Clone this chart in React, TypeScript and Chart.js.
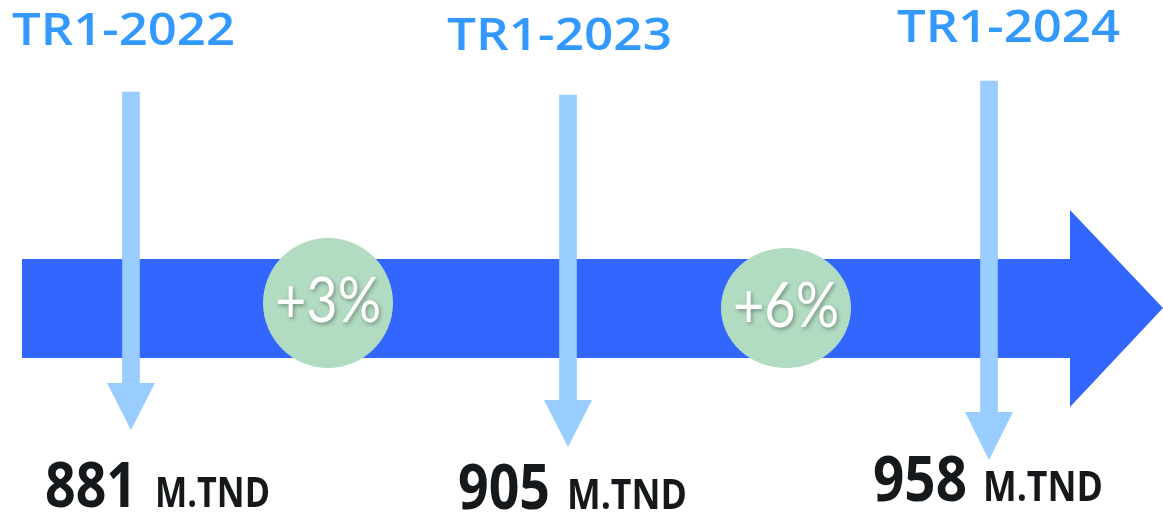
import React, { useEffect, useRef } from "react";
import { Chart, registerables } from "chart.js";

Chart.register(...registerables);

// ---- data ----
const periods = ["TR1-2022", "TR1-2023", "TR1-2024"];
const revenues = [881, 905, 958];
const unitLabel = "M.TND";
const growthLabels = ["+3%", "+6%"];

// ---- layout (chart units = pixels of a 1163x512 frame, y downward) ----
const W = 1163;
const H = 512;
const markerX = [131, 568, 989];
const shaftTop = [92, 95, 81];
const headTop = [383, 400, 412];
const headTip = [430, 447, 460];
const headHalf = 24;
const titleX = [12, 447, 897];
const titleBase = [45, 50, 42];
const titleWidth = [223, 225, 223];
const valueX = [45, 458, 873];
const valueBase = [507, 509, 501];
const valueWidth = [92, 92, 94];
const unitX = [155, 567, 983];
const unitWidth = [115, 120, 120];
const bubbleX = [328, 786];
const bubbleY = [303, 308];
const bubbleRX = [65, 65];
const bubbleRY = [65, 60];
const growthWidth = [106, 106];
const growthBase = [322, 327];
const band = { x0: 22, x1: 1070, top: 259, bottom: 358, headTop: 210, headBottom: 407, tipX: 1163, tipY: 308 };

const COL_BAND = "#3366ff";
const COL_MARK = "#99ccff";
const COL_TITLE = "#3399ff";
const COL_BUBBLE = "#b2dcc2";
const COL_VALUE = "#16191c";

function fitText(ctx: CanvasRenderingContext2D, text: string, x: number, y: number, width: number, align: "left" | "center") {
  const w = ctx.measureText(text).width || 1;
  const s = width / w;
  ctx.save();
  ctx.translate(x, y);
  ctx.scale(s, 1);
  ctx.textAlign = align;
  ctx.fillText(text, 0, 0);
  ctx.restore();
}

const infographicPlugin = {
  id: "infographic",
  beforeDatasetsDraw(chart: any) {
    const ctx: CanvasRenderingContext2D = chart.ctx;
    const xs = chart.scales.x;
    const ys = chart.scales.y;
    const px = (v: number) => xs.getPixelForValue(v);
    const py = (v: number) => ys.getPixelForValue(v);
    ctx.save();
    ctx.fillStyle = COL_BAND;
    ctx.beginPath();
    ctx.moveTo(px(band.x0), py(band.top));
    ctx.lineTo(px(band.x1), py(band.top));
    ctx.lineTo(px(band.x1), py(band.headTop));
    ctx.lineTo(px(band.tipX), py(band.tipY));
    ctx.lineTo(px(band.x1), py(band.headBottom));
    ctx.lineTo(px(band.x1), py(band.bottom));
    ctx.lineTo(px(band.x0), py(band.bottom));
    ctx.closePath();
    ctx.fill();
    ctx.restore();
  },
  afterDatasetsDraw(chart: any) {
    const ctx: CanvasRenderingContext2D = chart.ctx;
    const xs = chart.scales.x;
    const ys = chart.scales.y;
    const px = (v: number) => xs.getPixelForValue(v);
    const py = (v: number) => ys.getPixelForValue(v);
    ctx.save();
    // arrow heads of markers
    ctx.fillStyle = COL_MARK;
    markerX.forEach((x, i) => {
      ctx.beginPath();
      ctx.moveTo(px(x - headHalf), py(headTop[i]));
      ctx.lineTo(px(x + headHalf), py(headTop[i]));
      ctx.lineTo(px(x), py(headTip[i]));
      ctx.closePath();
      ctx.fill();
    });
    // growth bubbles
    growthLabels.forEach((g, i) => {
      ctx.fillStyle = COL_BUBBLE;
      ctx.beginPath();
      ctx.ellipse(px(bubbleX[i]), py(bubbleY[i]), bubbleRX[i], bubbleRY[i], 0, 0, Math.PI * 2);
      ctx.fill();
      ctx.save();
      ctx.shadowColor = "rgba(0,0,0,0.35)";
      ctx.shadowBlur = 4;
      ctx.shadowOffsetX = 1.5;
      ctx.shadowOffsetY = 1.5;
      ctx.fillStyle = "#ffffff";
      ctx.font = "400 62px Lato";
      ctx.textBaseline = "alphabetic";
      fitText(ctx, g, px(bubbleX[i]), py(growthBase[i]), growthWidth[i], "center");
      ctx.restore();
    });
    // titles
    ctx.textBaseline = "alphabetic";
    ctx.fillStyle = COL_TITLE;
    ctx.font = "600 46px 'Open Sans'";
    periods.forEach((p, i) => {
      fitText(ctx, p, px(titleX[i]), py(titleBase[i]), titleWidth[i], "left");
    });
    // values
    ctx.fillStyle = COL_VALUE;
    revenues.forEach((v, i) => {
      ctx.font = "bold 62px 'Open Sans'";
      fitText(ctx, String(v), px(valueX[i]), py(valueBase[i]), valueWidth[i], "left");
      ctx.font = "bold 42px 'Open Sans'";
      fitText(ctx, unitLabel, px(unitX[i]), py(valueBase[i]), unitWidth[i], "left");
    });
    ctx.restore();
  },
};

export default function App() {
  const ref = useRef<HTMLCanvasElement | null>(null);
  useEffect(() => {
    if (!ref.current) return;
    const chart = new Chart(ref.current, {
      type: "bar",
      data: {
        datasets: [
          {
            label: "markers",
            data: markerX.map((x, i) => ({ x, y: [shaftTop[i], headTop[i] + 1] })) as any,
            backgroundColor: COL_MARK,
            borderWidth: 0,
            barThickness: 17,
            grouped: false,
          } as any,
        ],
      },
      options: {
        animation: false,
        responsive: false,
        maintainAspectRatio: false,
        layout: { padding: 0 },
        plugins: { legend: { display: false }, tooltip: { enabled: false }, title: { display: false } },
        scales: {
          x: { type: "linear", min: 0, max: W, display: false, offset: false, grid: { display: false } },
          y: { type: "linear", min: 0, max: H, reverse: true, display: false, grid: { display: false } },
        },
      },
      plugins: [infographicPlugin],
    });
    return () => chart.destroy();
  }, []);
  return (
    <div style={{ position: "fixed", left: 0, top: 0, width: W, height: H, background: "#ffffff" }}>
      <canvas ref={ref} width={W} height={H} style={{ display: "block", width: W, height: H }} />
    </div>
  );
}
